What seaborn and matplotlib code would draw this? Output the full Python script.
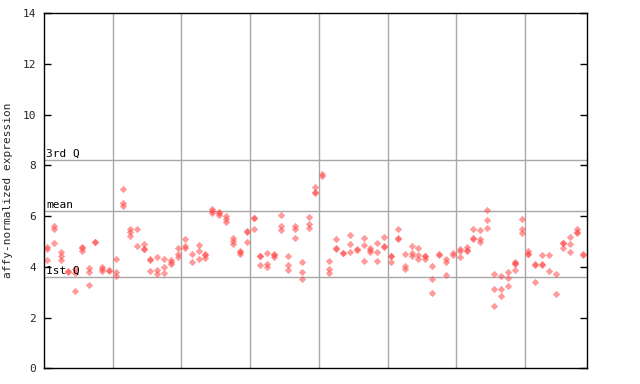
import numpy as np
import pandas as pd
import matplotlib
matplotlib.use('Agg')
import matplotlib.pyplot as plt
import seaborn as sns

# replicate values per sample, one list per group of samples
group1 = [[4.8, 4.72, 4.26], [5.61, 5.48, 4.95], [4.59, 4.43, 4.26], [3.85, 3.8],
          [3.9, 3.75, 3.05], [4.8, 4.76, 4.63], [3.97, 3.8, 3.3], [4.99, 4.96],
          [4.0, 3.9, 3.82], [3.86, 3.83]]
group2 = [[4.3, 3.8, 3.64], [7.08, 6.5, 6.4], [5.48, 5.37, 5.22], [5.5, 4.82],
          [4.88, 4.72, 4.7], [4.3, 4.25, 3.84], [4.39, 3.88, 3.73], [4.3, 4.0, 3.77],
          [4.27, 4.19, 4.1], [4.76, 4.49, 4.4]]
group3 = [[5.11, 4.82, 4.73], [4.52, 4.17], [4.85, 4.63, 4.32], [4.5, 4.47, 4.36],
          [6.29, 6.2, 6.11], [6.17, 6.14, 6.06], [6.0, 5.9, 5.77], [5.15, 5.02, 4.89],
          [4.62, 4.6, 4.49], [5.42, 5.39, 4.99]]
group4 = [[5.94, 5.91, 5.5], [4.44, 4.41, 4.09], [4.56, 4.13, 4.0], [4.5, 4.47, 4.4],
          [6.06, 5.61, 5.45], [4.43, 4.06, 3.88], [5.61, 5.5, 5.15], [4.2, 3.81, 3.53],
          [5.98, 5.7, 5.52], [7.16, 6.96, 6.93]]
group5 = [[7.67, 7.6], [4.24, 3.93, 3.77], [5.11, 4.76, 4.69], [4.56, 4.53],
          [5.27, 4.89, 4.6], [4.7, 4.67], [5.15, 4.85, 4.24], [4.76, 4.66, 4.59],
          [4.95, 4.6, 4.24], [5.19, 4.83, 4.8]]
group6 = [[4.44, 4.41, 4.2], [5.48, 5.15, 5.09], [4.52, 4.03, 3.93], [4.84, 4.56, 4.43],
          [4.73, 4.48, 4.32], [4.44, 4.41, 4.32], [4.05, 3.5, 2.98], [4.52, 4.45],
          [4.3, 4.2, 3.69], [4.53, 4.45]]
group7 = [[4.69, 4.61, 4.4], [4.8, 4.66, 4.63], [5.48, 5.15, 5.09], [5.44, 5.09, 4.98],
          [6.25, 5.86, 5.55], [3.72, 3.14, 2.47], [3.63, 3.14, 2.83], [3.81, 3.57, 3.23],
          [4.2, 4.15, 4.12, 3.89], [5.9, 5.5, 5.35]]
group8 = [[4.63, 4.52, 4.49], [4.12, 4.09, 3.42], [4.48, 4.12, 4.09], [4.48, 3.85],
          [3.73, 2.94], [4.95, 4.92, 4.76], [5.19, 4.88, 4.6], [5.48, 5.38, 5.35],
          [4.5, 4.46]]

stat_names = ['1st Q', 'mean', '3rd Q']
stat_values = [3.6, 6.19, 8.2]
y_ticks = [0, 2, 4, 6, 8, 10, 12, 14]


def build_df(groups):
    rows = []
    idx = 0
    for g in groups:
        for reps in g:
            for v in reps:
                rows.append({'sample': idx, 'value': v})
            idx += 1
    return pd.DataFrame(rows), idx


def main():
    df, n = build_df([group1, group2, group3, group4, group5, group6, group7, group8])

    sns.set_style('white')
    plt.rcParams['font.family'] = ['DejaVu Sans Mono', 'DejaVu Sans']

    fig = plt.figure(figsize=(6.4, 3.84), dpi=100)
    ax = fig.add_axes([44.3 / 640, 1 - 368.2 / 384, (587.3 - 44.3) / 640, (368.2 - 13.3) / 384])

    # group separators and summary lines
    for b in range(10, n, 10):
        ax.axvline(b - 0.5, color='#a8a8a8', lw=1, zorder=1)
    for name, v in zip(stat_names, stat_values):
        ax.axhline(v, color='#a8a8a8', lw=1, zorder=1)
        ax.text(0.003, v + 0.05, name, transform=ax.get_yaxis_transform(),
                fontsize=8, va='bottom', ha='left', color='black', zorder=3)

    sns.scatterplot(data=df, x='sample', y='value', marker='D', s=14,
                    color='#ff4a4a', alpha=0.55, linewidth=0, ax=ax, zorder=2)

    ax.set_xlim(-0.44, 78.56)
    ax.set_ylim(0, 14)
    ax.set_yticks(y_ticks)
    ax.set_yticklabels([str(t) for t in y_ticks], fontsize=8)
    ax.set_xticks([])
    ax.tick_params(axis='y', direction='in', length=5, width=1, left=True, right=True,
                   pad=6, color='black')
    for sp in ax.spines.values():
        sp.set_color('black')
        sp.set_linewidth(1)
    ax.set_xlabel('')
    ax.set_ylabel('affy-normalized expression', fontsize=8, labelpad=14)
    ax.yaxis.set_label_coords(-0.058, 0.5)

    fig.savefig('out.png', dpi=100)


if __name__ == '__main__':
    main()
